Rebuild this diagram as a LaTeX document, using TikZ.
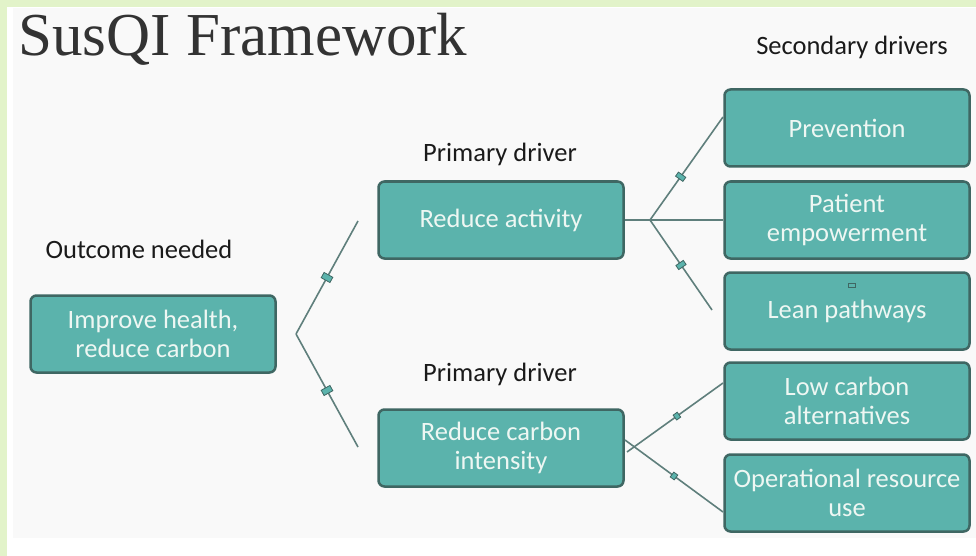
\documentclass[tikz,border=0pt]{standalone}
\usepackage{fontspec}
\setmainfont{Carlito}
\newfontfamily\titlefont{Liberation Serif}
\usepackage{xcolor}
\usepackage{tikz}
\usetikzlibrary{positioning}
\definecolor{suqteal}{HTML}{5BB3AC}
\definecolor{suqedge}{HTML}{3F6763}
\definecolor{suqline}{HTML}{5F7F7C}
\definecolor{suqtext}{HTML}{EEF7F3}
\definecolor{suqbg}{HTML}{F9F9F9}
\definecolor{suqframe}{HTML}{E2F3C9}
\definecolor{suqink}{HTML}{1A1A1A}
\definecolor{suqtitle}{HTML}{333333}
\newcommand{\fsTitle}{\fontsize{61}{70}\selectfont}
\newcommand{\fsBox}{\fontsize{26.5}{29}\selectfont}

\begin{document}
\begin{tikzpicture}[x=1pt, y=-1pt,
    driver/.style={draw=suqedge, line width=2.5pt, fill=suqteal, rounded corners=6pt,
      minimum width=245pt, minimum height=77pt, align=center, text=suqtext, font=\fsBox},
    heading/.style={font=\fsBox, text=suqink, anchor=base},
    link/.style={draw=suqline, line width=1.6pt},
    tick/.style={draw=suqedge, fill=suqteal, line width=0.8pt, sloped, inner sep=0pt,
      minimum width=5pt, minimum height=9pt}]
  \useasboundingbox (0,0) rectangle (976,556);
  \fill[white] (0,0) rectangle (976,556);
  \fill[suqframe] (0,0) rectangle (976,7);
  \fill[suqframe] (0,0) rectangle (7,556);
  \fill[suqbg] (13,8) rectangle (976,538);

  \node[font=\titlefont\fsTitle, text=suqtitle, anchor=base west] (title) at (15,56) {SusQI Framework};

  \node[heading] (hOutcome) at (139,258) {Outcome needed};
  \node[heading] (hPrimaryA) at (500,161) {Primary driver};
  \node[heading] (hPrimaryB) at (500,381) {Primary driver};
  \node[heading] (hSecondary) at (852,55) {Secondary drivers};

  \node[driver] (outcome) at (153,334) {Improve health,\\reduce carbon};
  \node[driver] (activity) at (501,220) {Reduce activity};
  \node[driver] (intensity) at (501,448) {Reduce carbon\\intensity};
  \node[driver] (prevention) at (847,128) {Prevention};
  \node[driver] (empower) at (847,220) {Patient\\empowerment};
  \node[driver] (lean) at (847,311) {Lean pathways};
  \node[driver] (lowcarbon) at (847,401) {Low carbon\\alternatives};
  \node[driver] (resource) at (847,493) {Operational resource\\use};

  % outcome bracket
  \coordinate (outHub) at (296,334);
  \coordinate (outTop) at (358,221);
  \coordinate (outBot) at (358,447);
  \path[link] (outHub) -- node[tick, minimum width=6pt, minimum height=10pt] (tkOutA) {} (outTop);
  \path[link] (outHub) -- node[tick, minimum width=6pt, minimum height=10pt] (tkOutB) {} (outBot);

  % reduce activity fan
  \coordinate (actHub) at (650,220);
  \coordinate (actTop) at (723,117);
  \coordinate (actLow) at (712,310);
  \path[link] (activity.east) -- (actHub) -- (empower.west);
  \path[link] (actHub) -- node[tick, pos=0.42] (tkActA) {} (actTop);
  \path[link] (actHub) -- node[tick, pos=0.5] (tkActB) {} (actLow);

  % reduce carbon intensity fan
  \coordinate (intA) at (627,452);
  \coordinate (intAEnd) at (723,383);
  \coordinate (intB) at (625,440);
  \coordinate (intBEnd) at (723,512);
  \path[link] (intA) -- node[tick, pos=0.52, minimum width=5pt, minimum height=6pt] (tkIntA) {} (intAEnd);
  \path[link] (intB) -- node[tick, pos=0.5, minimum width=5pt, minimum height=6pt] (tkIntB) {} (intBEnd);

  \node[draw=suqedge, fill=suqteal, line width=0.8pt, inner sep=0pt,
    minimum width=7pt, minimum height=4pt] (leanMark) at (852,285) {};
\end{tikzpicture}
\end{document}
